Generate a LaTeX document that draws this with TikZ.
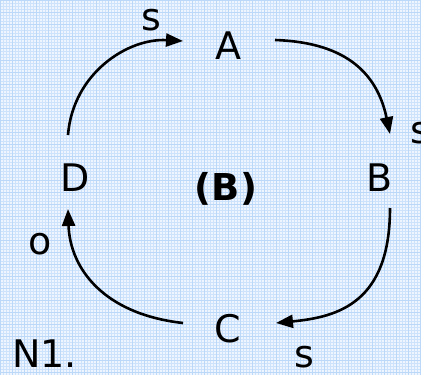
\documentclass[tikz,border=0pt]{standalone}
\usepackage{fontspec}
\setmainfont{DejaVu Sans}
\usetikzlibrary{arrows.meta,calc}
\definecolor{bgblue}{RGB}{238,245,255}
\definecolor{gridblue}{RGB}{205,227,251}
\definecolor{gridblue2}{RGB}{188,216,248}
\tikzset{
  lbl/.style={font=\fontsize{38}{42}\selectfont, inner sep=0pt, text=black},
  conn/.style={line width=2.6pt, -{Triangle[length=17pt,width=13pt]}},
}
\begin{document}
\begin{tikzpicture}[x=1pt,y=-1pt]
\useasboundingbox (0,0) rectangle (421,375);
\fill[bgblue] (0,0) rectangle (421,375);
\draw[gridblue, line width=0.6pt, step=3pt] (0,0) grid (421,375);
\draw[gridblue2, line width=0.8pt, step=12pt] (0,0) grid (421,375);
\node[lbl] (A) at (228,46) {A};
\node[lbl] (B) at (380,178) {B};
\node[lbl] (C) at (228,329) {C};
\node[lbl] (D) at (75,178) {D};
\node[lbl, font=\fontsize{37}{42}\selectfont\bfseries] (Bm) at (226,189) {(B)};
\node[lbl] (s1) at (151,20) {s};
\node[lbl] (s2) at (420,133) {s};
\node[lbl] (s3) at (304,357) {s};
\node[lbl] (o) at (40,244) {o};
\node[lbl, anchor=base west] (N1) at (12,367) {N1.};
% D -> A
\draw[conn] ($(D)+(-7,-43)$) .. controls ($(D)+(-2,-105)$) and ($(A)+(-100,-8)$) .. ($(A)+(-45,-5)$);
% A -> B
\draw[conn] ($(A)+(47,-6)$) .. controls ($(A)+(105,-4)$) and ($(B)+(-5,-115)$) .. ($(B)+(10,-44)$);
% B -> C
\draw[conn] ($(B)+(10,30)$) .. controls ($(B)+(10,125)$) and ($(C)+(110,-12)$) .. ($(C)+(48,-6)$);
% C -> D
\draw[conn] ($(C)+(-45,-6)$) .. controls ($(C)+(-125,-15)$) and ($(D)+(-5,90)$) .. ($(D)+(-7,31)$);
\end{tikzpicture}
\end{document}
